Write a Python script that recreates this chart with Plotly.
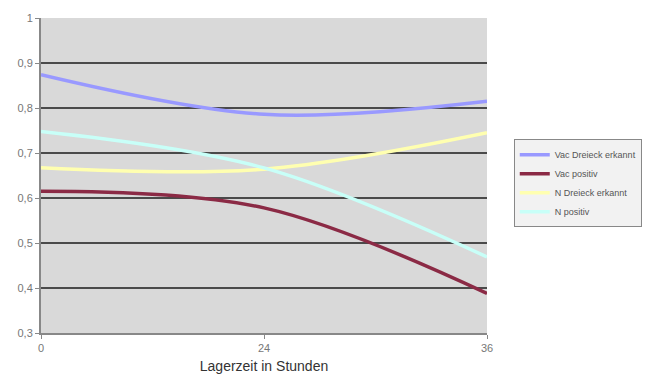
import plotly.graph_objects as go

categories = ["0", "24", "36"]
vac_dreieck = [0.874, 0.786, 0.815]
vac_positiv = [0.615, 0.578, 0.388]
n_dreieck = [0.667, 0.664, 0.745]
n_positiv = [0.748, 0.667, 0.469]

y_ticks = [0.3, 0.4, 0.5, 0.6, 0.7, 0.8, 0.9, 1.0]
y_ticktext = ["0,3", "0,4", "0,5", "0,6", "0,7", "0,8", "0,9", "1"]

series = [
    ("Vac Dreieck erkannt", vac_dreieck, "#9999ff"),
    ("Vac positiv", vac_positiv, "#8b2a45"),
    ("N Dreieck erkannt", n_dreieck, "#ffffb0"),
    ("N positiv", n_positiv, "#c8fff8"),
]

fig = go.Figure()
for name, vals, col in series:
    fig.add_trace(go.Scatter(
        x=list(range(len(categories))), y=vals, name=name, mode="lines",
        line=dict(color=col, width=3.5, shape="spline", smoothing=1.0),
    ))

fig.update_layout(
    width=660, height=387,
    margin=dict(l=41, r=173, t=16, b=54),
    paper_bgcolor="white",
    plot_bgcolor="#d9d9d9",
    font=dict(family="Liberation Sans, Arial, sans-serif", color="#666666"),
    showlegend=True,
    legend=dict(
        x=1.06, y=0.615, xanchor="left", yanchor="top",
        bgcolor="#f2f2f2", bordercolor="#888888", borderwidth=1,
        font=dict(size=9, color="#555555"),
        itemwidth=30, tracegroupgap=0,
    ),
)
fig.update_xaxes(
    range=[0, len(categories) - 1],
    tickvals=list(range(len(categories))), ticktext=categories,
    showgrid=False, zeroline=False,
    showline=True, linecolor="#888888", linewidth=2, mirror=False,
    ticks="outside", ticklen=4, tickcolor="#888888",
    tickfont=dict(size=11, color="#777777"),
    title=dict(text="Lagerzeit in Stunden", font=dict(size=14, color="#333333"), standoff=8),
)
fig.update_yaxes(
    range=[0.3, 1.0], tickvals=y_ticks, ticktext=y_ticktext,
    showgrid=True, gridcolor="#4a4a4a", gridwidth=1.5, zeroline=False,
    showline=True, linecolor="#888888", linewidth=2,
    ticks="outside", ticklen=4, tickcolor="#888888",
    tickfont=dict(size=11, color="#777777"),
)

fig.write_html("out.html")
